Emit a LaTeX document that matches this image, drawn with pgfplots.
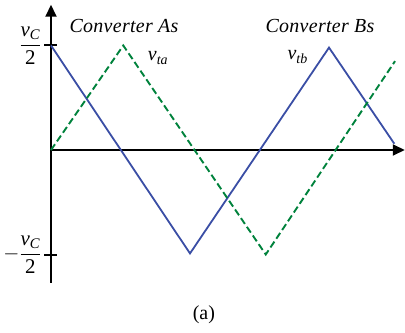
\documentclass[border=0pt]{standalone}
\usepackage{pgfplots}
\pgfplotsset{compat=1.18}
\usepackage{amsmath}
\usepackage{fontspec}
\setmainfont{Liberation Serif}
\usetikzlibrary{arrows.meta}
\definecolor{carrierA}{RGB}{0,130,60}
\definecolor{carrierB}{RGB}{58,78,165}

% carrier waveforms: (time, level) in half-periods and units of v_C/2
\pgfplotstableread{
t      v
0      0
1.04   1
3.09  -1
4.95   0.85
}\carrierAdata
\pgfplotstableread{
t      v
0      1
2.00  -0.99
4.00   0.98
4.94   0.06
}\carrierBdata

\newcommand{\halfvc}{\dfrac{\text{\itshape v}_{\text{\itshape C}}}{\text{2}}}
\newcommand{\labelfont}{\fontsize{20}{24}\selectfont\addfontfeature{LetterSpace=1.5}}

\begin{document}
\begin{tikzpicture}[font=\fontsize{19}{23}\selectfont]
\begin{axis}[
  anchor=origin, at={(0,0)},
  x=69.5bp, y=104.5bp,
  xmin=0, xmax=5.09, ymin=-1.27, ymax=1.39,
  axis lines=middle,
  axis line style={line width=2bp, black, -{Triangle[length=12bp,width=11bp]}},
  xtick=\empty,
  ytick={-1,1},
  yticklabels={$-\halfvc$, $\halfvc$},
  major tick length=13bp,
  tick align=center,
  ytick style={line width=2bp, black},
  yticklabel style={anchor=east, inner sep=0pt, xshift=-3bp,
    font=\fontsize{21}{25}\selectfont},
  clip=false,
]
\addplot[carrierB, line width=1.8bp] table[x=t, y=v] {\carrierBdata};
\addplot[carrierA, line width=1.9bp, dash pattern=on 7bp off 3.5bp] table[x=t, y=v] {\carrierAdata};

\node at (axis cs:1.05,1.19) {\labelfont\itshape Converter As};
\node at (axis cs:1.54,0.88) {\fontsize{20}{24}\selectfont\itshape v\textsubscript{ta}};
\node at (axis cs:3.87,1.19) {\labelfont\itshape Converter Bs};
\node at (axis cs:3.55,0.89) {\fontsize{20}{24}\selectfont\itshape v\textsubscript{tb}};
\node at (axis cs:2.2,-1.58) {\fontsize{20}{24}\selectfont (a)};
\end{axis}
\pgfresetboundingbox
\path[use as bounding box] (-51bp,-183bp) rectangle (354bp,150bp);
\end{tikzpicture}
\end{document}
